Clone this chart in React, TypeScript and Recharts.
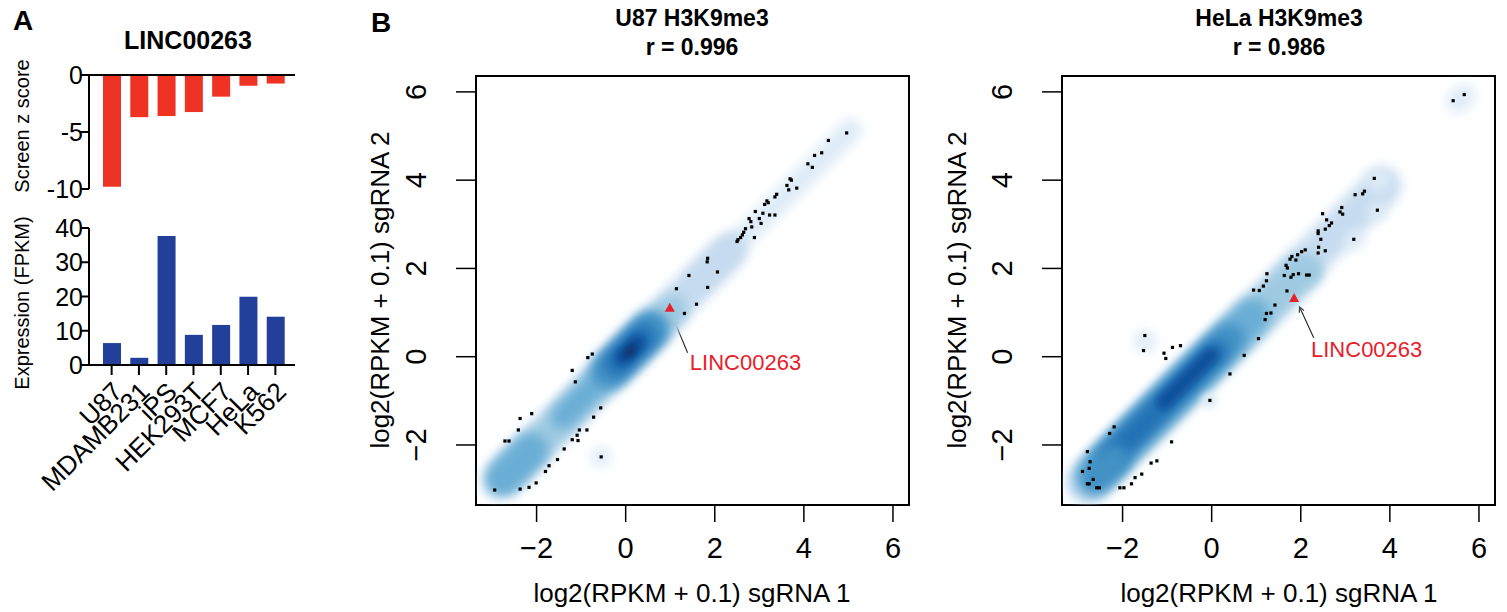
import { Bar, BarChart, ReferenceArea, ReferenceLine, Scatter, ScatterChart, XAxis, YAxis } from 'recharts';

// panel A
const cellLines = ['U87', 'MDAMB231', 'iPS', 'HEK293T', 'MCF7', 'HeLa', 'K562'];
const screenZ = [-9.8, -3.7, -3.6, -3.25, -1.9, -0.95, -0.75];
const expressionFpkm = [6.4, 2.1, 37.7, 8.8, 11.7, 19.9, 14.1];
const zTicks = [-10, -5, 0];
const fpkmTicks = [0, 10, 20, 30, 40];

// panel B
const logTicks = [-2, 0, 2, 4, 6];
const logDomain = [-3.36, 6.36];

const u87Points: [number, number][] = [
    [4.96, 5.07], [4.55, 4.9], [4.4, 4.62], [4.24, 4.56], [4.09, 4.37], [4.19, 4.29],
    [3.69, 4.03], [3.72, 4.0], [3.62, 3.88], [3.66, 3.78], [3.84, 3.82], [3.39, 3.68],
    [3.35, 3.62], [3.17, 3.53], [3.12, 3.45], [3.2, 3.49], [3.08, 3.25], [3.23, 3.21],
    [3.35, 3.21], [3.0, 3.13], [3.04, 3.02], [2.91, 3.29], [2.77, 3.13], [2.81, 3.06],
    [2.83, 2.94], [2.69, 2.9], [2.65, 2.82], [2.62, 2.76], [2.58, 2.7], [2.52, 2.65],
    [2.5, 2.61], [2.89, 2.7], [1.84, 2.23], [1.83, 2.15], [2.06, 1.92], [1.42, 1.84],
    [1.14, 1.54], [1.84, 1.57], [1.59, 1.19], [1.32, 0.98], [-0.75, 0.06], [-0.85, -0.02],
    [-1.2, -0.31], [-1.13, -0.57], [-2.11, -1.29], [-2.37, -1.4], [-2.41, -1.66], [-2.71, -1.91],
    [-2.62, -1.91], [-0.56, -1.16], [-0.72, -1.37], [-0.87, -1.66], [-1.04, -1.66], [-1.09, -1.78],
    [-1.2, -1.88], [-1.07, -1.9], [-1.38, -2.09], [-1.53, -2.33], [-1.72, -2.47], [-1.8, -2.6],
    [-2.01, -2.86], [-2.17, -2.96], [-2.37, -3.0], [-2.94, -3.02], [-0.55, -2.27],
];

const helaPoints: [number, number][] = [
    [5.67, 5.94], [5.42, 5.8], [3.65, 4.04], [3.43, 3.75], [3.39, 3.69], [3.22, 3.67],
    [3.72, 3.32], [2.92, 3.38], [2.88, 3.28], [2.94, 3.23], [2.49, 3.24], [2.58, 3.1],
    [2.69, 3.03], [2.64, 2.97], [2.55, 2.89], [2.39, 2.85], [2.39, 2.79], [2.45, 2.66],
    [2.4, 2.48], [2.55, 2.4], [2.39, 2.35], [3.19, 2.66], [2.1, 2.42], [2.02, 2.38],
    [1.93, 2.31], [1.89, 2.19], [1.8, 2.27], [1.76, 2.21], [1.67, 2.07], [1.7, 2.01],
    [1.63, 1.84], [1.78, 1.8], [1.83, 1.86], [1.95, 1.88], [2.13, 1.85], [2.19, 1.85],
    [1.24, 1.88], [1.23, 1.72], [1.16, 1.6], [1.07, 1.5], [0.94, 1.51], [1.69, 1.49],
    [1.42, 1.17], [1.33, 0.99], [1.23, 0.98], [1.2, 0.84], [1.05, 0.41], [0.73, 0.03],
    [0.41, -0.39], [-0.04, -0.99], [-1.5, 0.48], [-1.53, 0.14], [-1.07, 0.08], [-1.03, -0.04],
    [-0.88, 0.21], [-0.7, 0.25], [-0.9, -1.93], [-2.19, -1.59], [-2.29, -1.74], [-2.79, -2.15],
    [-2.73, -2.38], [-2.75, -2.53], [-2.9, -2.6], [-2.66, -2.78], [-2.79, -2.88], [-2.75, -2.88],
    [-2.58, -2.97], [-2.52, -2.97], [-2.06, -2.97], [-1.97, -2.97], [-1.8, -2.88], [-1.72, -2.74],
    [-1.57, -2.66], [-1.36, -2.41], [-1.23, -2.36],
];

// smoothed density: centre, x-extent along the diagonal, width across it, shade level (1..8)
const u87Density = [
    { x: 1.05, y: 1.1, span: 8.4, wid: 0.5, level: 1 },
    { x: -0.2, y: -0.15, span: 5.6, wid: 0.8, level: 2 },
    { x: 2.0, y: 2.1, span: 1.2, wid: 0.45, level: 2 },
    { x: -0.8, y: -0.8, span: 4.2, wid: 0.7, level: 3 },
    { x: -2.45, y: -2.45, span: 1.2, wid: 0.8, level: 4 },
    { x: -0.4, y: -0.35, span: 2.4, wid: 0.55, level: 4 },
    { x: 0.1, y: 0.15, span: 1.5, wid: 0.85, level: 5 },
    { x: 0.1, y: 0.15, span: 1.0, wid: 0.6, level: 6 },
    { x: 0.1, y: 0.15, span: 0.6, wid: 0.38, level: 7 },
    { x: 0.1, y: 0.12, span: 0.25, wid: 0.2, level: 8 },
    { x: -0.55, y: -2.27, span: 0.3, wid: 0.45, level: 1 },
];

const helaDensity = [
    { x: 0.5, y: 0.5, span: 7.3, wid: 0.85, level: 2 },
    { x: 3.75, y: 4.0, span: 0.4, wid: 0.55, level: 1 },
    { x: -0.35, y: -0.45, span: 5.3, wid: 0.85, level: 3 },
    { x: -0.85, y: -0.85, span: 4.1, wid: 0.8, level: 4 },
    { x: -1.0, y: -1.0, span: 3.3, wid: 0.7, level: 5 },
    { x: -1.05, y: -1.05, span: 2.7, wid: 0.55, level: 6 },
    { x: -0.55, y: -0.5, span: 1.3, wid: 0.35, level: 7 },
    { x: -2.4, y: -2.55, span: 0.9, wid: 0.7, level: 5 },
    { x: 5.6, y: 5.85, span: 0.5, wid: 0.5, level: 1 },
    { x: -1.5, y: 0.35, span: 0.25, wid: 0.5, level: 1 },
    { x: 3.72, y: 3.3, span: 0.1, wid: 0.45, level: 1 },
    { x: 3.2, y: 2.65, span: 0.1, wid: 0.45, level: 1 },
    { x: 2.2, y: 1.95, span: 0.4, wid: 0.55, level: 3 },
    { x: -0.05, y: -1.0, span: 0.1, wid: 0.35, level: 1 },
];

const u87Gene = [{ x: 0.99, y: 1.11 }];
const u87GeneLabel = [{ x: 1.44, y: -0.12, name: 'LINC00263' }];
const u87Arrow = [{ x: 1.39, y: 0.09 }, { x: 1.08, y: 0.84 }];
const helaGene = [{ x: 1.85, y: 1.33 }];
const helaGeneLabel = [{ x: 2.23, y: 0.16, name: 'LINC00263' }];
const helaArrow = [{ x: 2.29, y: 0.43 }, { x: 1.97, y: 1.13 }];

const RED = '#ee3224';
const BLUE = '#22409a';
const LABEL_RED = '#e8202a';
const BLUES = ['#f7fbff', '#deebf7', '#c6dbef', '#9ecae1', '#6baed6', '#4292c6', '#2171b5', '#08519c', '#08306b'];
const FONT = '"Liberation Sans", Arial, Helvetica, sans-serif';
const PXU = 44.3; // px per log2 unit in panel B

const zData = cellLines.map((cell, i) => ({ cell, z: screenZ[i] }));
const fpkmData = cellLines.map((cell, i) => ({ cell, fpkm: expressionFpkm[i] }));
const toXY = (pts: [number, number][]) => pts.map(([x, y]) => ({ x, y }));

const fmtLog = (v: number) => (v < 0 ? `\u2212${Math.abs(v)}` : `${v}`);

function ZTick(props: any) {
    const { x, y, payload } = props;
    return (
        <text x={x + 5} y={y} textAnchor="end" dominantBaseline="central" fontSize={25} fill="#000">
            {payload.value}
        </text>
    );
}

function CellTick(props: any) {
    const { x, y, payload } = props;
    const tx = x + 6;
    const ty = y + 10;
    return (
        <text x={tx} y={ty} transform={`rotate(-45 ${tx} ${ty})`} textAnchor="end" dominantBaseline="central" fontSize={26} fill="#000">
            {payload.value}
        </text>
    );
}

function LogXTick(props: any) {
    const { x, y, payload } = props;
    return (
        <text x={x} y={y + 24} textAnchor="middle" dominantBaseline="central" fontSize={29} fill="#000">
            {fmtLog(payload.value)}
        </text>
    );
}

function LogYTick(props: any) {
    const { x, y, payload } = props;
    const cx = x - 38;
    return (
        <text x={cx} y={y} transform={`rotate(-90 ${cx} ${y})`} textAnchor="middle" dominantBaseline="central" fontSize={29} fill="#000">
            {fmtLog(payload.value)}
        </text>
    );
}

function DensityBlob(props: any) {
    const { cx, cy, payload } = props;
    const len = Math.max(payload.span * Math.SQRT2 * PXU, payload.wid * PXU);
    const h = payload.wid * PXU;
    const blur = payload.wid < 0.45 ? 'url(#densBlurS)' : 'url(#densBlurL)';
    return (
        <rect
            x={cx - len / 2}
            y={cy - h / 2}
            width={len}
            height={h}
            rx={h / 2}
            ry={h / 2}
            fill={BLUES[payload.level]}
            transform={`rotate(-45 ${cx} ${cy})`}
            filter={blur}
        />
    );
}

const dotShape = (p: any) => <rect x={p.cx - 1.6} y={p.cy - 1.6} width={3.2} height={3.2} fill="#000" />;
const triShape = (p: any) => (
    <polygon points={`${p.cx},${p.cy - 5} ${p.cx - 5},${p.cy + 4} ${p.cx + 5},${p.cy + 4}`} fill={LABEL_RED} />
);
const labelShape = (p: any) => (
    <text x={p.cx} y={p.cy} fontSize={22} fill={LABEL_RED} dominantBaseline="central">
        {p.payload.name}
    </text>
);
const arrowShape = (p: any) => {
    const { x1, y1, x2, y2 } = p;
    const ang = Math.atan2(y2 - y1, x2 - x1);
    const L = 6;
    const a = Math.PI / 7;
    const h1 = `${x2 - L * Math.cos(ang - a)},${y2 - L * Math.sin(ang - a)}`;
    const h2 = `${x2 - L * Math.cos(ang + a)},${y2 - L * Math.sin(ang + a)}`;
    return (
        <g>
            <line x1={x1} y1={y1} x2={x2} y2={y2} stroke="#222" strokeWidth={1.1} />
            <polyline points={`${h1} ${x2},${y2} ${h2}`} fill="none" stroke="#222" strokeWidth={1.1} />
        </g>
    );
};

function DensityScatter({
    density,
    points,
    gene,
    geneLabel,
    arrow,
}: {
    density: typeof u87Density;
    points: [number, number][];
    gene: { x: number; y: number }[];
    geneLabel: { x: number; y: number; name: string }[];
    arrow: { x: number; y: number }[];
}) {
    return (
        <ScatterChart width={580} height={612} margin={{ top: 76, right: 11, bottom: 47, left: 76 }}>
            <defs>
                <filter id="densBlurL" filterUnits="userSpaceOnUse" x="-2000" y="-2000" width="5000" height="5000">
                    <feGaussianBlur stdDeviation="6" />
                </filter>
                <filter id="densBlurS" filterUnits="userSpaceOnUse" x="-2000" y="-2000" width="5000" height="5000">
                    <feGaussianBlur stdDeviation="3.5" />
                </filter>
            </defs>
            <XAxis
                type="number"
                dataKey="x"
                domain={logDomain}
                ticks={logTicks}
                interval={0}
                allowDataOverflow
                axisLine={false}
                tickLine={{ stroke: '#000', strokeWidth: 1.5 }}
                tickSize={17}
                height={60}
                tick={LogXTick}
            />
            <YAxis
                type="number"
                dataKey="y"
                domain={logDomain}
                ticks={logTicks}
                interval={0}
                allowDataOverflow
                axisLine={false}
                tickLine={{ stroke: '#000', strokeWidth: 1.5 }}
                tickSize={20}
                width={60}
                tick={LogYTick}
            />
            <Scatter data={density} shape={DensityBlob} isAnimationActive={false} />
            <Scatter data={toXY(points)} shape={dotShape} isAnimationActive={false} />
            <Scatter data={gene} shape={triShape} isAnimationActive={false} />
            <ReferenceLine segment={arrow} shape={arrowShape} ifOverflow="visible" />
            <Scatter data={geneLabel} shape={labelShape} isAnimationActive={false} />
            <ReferenceArea
                x1={logDomain[0]}
                x2={logDomain[1]}
                y1={logDomain[0]}
                y2={logDomain[1]}
                fill="none"
                fillOpacity={0}
                stroke="#000"
                strokeWidth={2}
                ifOverflow="visible"
            />
        </ScatterChart>
    );
}

export default function App() {
    const axisStyle = { stroke: '#000', strokeWidth: 2 };
    return (
        <div
            style={{
                position: 'absolute',
                left: 0,
                top: 0,
                width: 1507,
                height: 612,
                background: '#fff',
                fontFamily: FONT,
                overflow: 'hidden',
            }}
        >
            <div style={{ position: 'absolute', left: 0, top: 0 }}>
                <BarChart width={300} height={212} data={zData} margin={{ top: 75, right: 5, bottom: 23, left: 0 }}>
                    <XAxis dataKey="cell" hide padding={{ left: 9, right: 6 }} />
                    <YAxis
                        width={89}
                        domain={[-10, 0]}
                        ticks={zTicks}
                        interval={0}
                        axisLine={axisStyle}
                        tickLine={axisStyle}
                        tickSize={9}
                        tick={ZTick}
                    />
                    <Bar dataKey="z" fill={RED} barSize={18} isAnimationActive={false} />
                    <ReferenceLine y={0} stroke="#000" strokeWidth={2} />
                </BarChart>
            </div>
            <div style={{ position: 'absolute', left: 0, top: 200 }}>
                <BarChart width={300} height={300} data={fpkmData} margin={{ top: 28, right: 5, bottom: 0, left: 0 }}>
                    <XAxis
                        dataKey="cell"
                        height={135}
                        interval={0}
                        padding={{ left: 9, right: 6 }}
                        axisLine={axisStyle}
                        tickLine={axisStyle}
                        tickSize={10}
                        tick={CellTick}
                    />
                    <YAxis
                        width={89}
                        domain={[0, 40]}
                        ticks={fpkmTicks}
                        interval={0}
                        axisLine={axisStyle}
                        tickLine={axisStyle}
                        tickSize={9}
                        tick={ZTick}
                    />
                    <Bar dataKey="fpkm" fill={BLUE} barSize={18} isAnimationActive={false} />
                </BarChart>
            </div>
            <div style={{ position: 'absolute', left: 340, top: 0 }}>
                <DensityScatter density={u87Density} points={u87Points} gene={u87Gene} geneLabel={u87GeneLabel} arrow={u87Arrow} />
            </div>
            <div style={{ position: 'absolute', left: 926, top: 0 }}>
                <DensityScatter density={helaDensity} points={helaPoints} gene={helaGene} geneLabel={helaGeneLabel} arrow={helaArrow} />
            </div>
            <svg width={1507} height={612} style={{ position: 'absolute', left: 0, top: 0, pointerEvents: 'none' }} fontFamily={FONT}>
                <text x={23} y={20} fontSize={28} fontWeight="bold" textAnchor="middle" dominantBaseline="central">A</text>
                <text x={381} y={22} fontSize={28} fontWeight="bold" textAnchor="middle" dominantBaseline="central">B</text>
                <text x={188} y={40} fontSize={25} fontWeight="bold" textAnchor="middle" dominantBaseline="central">LINC00263</text>
                <text x={22} y={126} fontSize={20} textAnchor="middle" dominantBaseline="central" transform="rotate(-90 22 126)">Screen z score</text>
                <text x={22} y={303} fontSize={20} textAnchor="middle" dominantBaseline="central" transform="rotate(-90 22 303)">Expression (FPKM)</text>

                <text x={692} y={18} fontSize={23} fontWeight="bold" textAnchor="middle" dominantBaseline="central">U87 H3K9me3</text>
                <text x={692} y={47} fontSize={23} fontWeight="bold" textAnchor="middle" dominantBaseline="central">r = 0.996</text>
                <text x={1279} y={18} fontSize={23} fontWeight="bold" textAnchor="middle" dominantBaseline="central">HeLa H3K9me3</text>
                <text x={1279} y={47} fontSize={23} fontWeight="bold" textAnchor="middle" dominantBaseline="central">r = 0.986</text>

                <text x={692} y={593} fontSize={26} textAnchor="middle" dominantBaseline="central">log2(RPKM + 0.1) sgRNA 1</text>
                <text x={1279} y={593} fontSize={26} textAnchor="middle" dominantBaseline="central">log2(RPKM + 0.1) sgRNA 1</text>
                <text x={380} y={290} fontSize={26} textAnchor="middle" dominantBaseline="central" transform="rotate(-90 380 290)">log2(RPKM + 0.1) sgRNA 2</text>
                <text x={957} y={290} fontSize={26} textAnchor="middle" dominantBaseline="central" transform="rotate(-90 957 290)">log2(RPKM + 0.1) sgRNA 2</text>
            </svg>
        </div>
    );
}
